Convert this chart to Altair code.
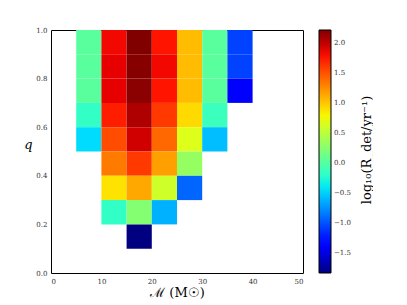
import altair as alt
import pandas as pd

# colour-bar limits
VMIN, VMAX = -1.83, 2.22

# lower edges of chirp-mass bins (M_sun) and q bins
mass_lo = [5, 10, 15, 20, 25, 30, 35]
q_top_lo = 0.9  # each column listed from q=0.9 downward

# log10(R_det / yr^-1) per mass column, from q=0.9 downward
col_5 = [0.03, 0.03, 0.03, -0.17, -0.45]
col_10 = [1.82, 1.86, 1.86, 1.73, 1.53, 1.33, 0.88, -0.17]
col_15 = [2.22, 2.20, 2.18, 2.06, 1.94, 1.61, 1.13, 0.24, -1.83]
col_20 = [1.77, 1.82, 1.77, 1.61, 1.41, 1.17, 0.60, -0.62]
col_25 = [1.05, 1.05, 1.05, 0.92, 0.68, 0.32, -0.92]
col_30 = [0.03, 0.03, 0.03, -0.13, -0.57]
col_35 = [-1.06, -1.06, -1.38]

cbar_title = "log₁₀(R_det/yr⁻¹)"

columns = [col_5, col_10, col_15, col_20, col_25, col_30, col_35]
rows = []
for m, col in zip(mass_lo, columns):
    for i, v in enumerate(col):
        ql = round(q_top_lo - 0.1 * i, 2)
        rows.append({"m_lo": m, "m_hi": m + 5, "q_lo": ql, "q_hi": round(ql + 0.1, 2), "val": v})
df = pd.DataFrame(rows)

# jet colormap as piecewise-linear stops
def interp(pts, t):
    for (t0, v0), (t1, v1) in zip(pts, pts[1:]):
        if t0 <= t <= t1:
            return v0 + (v1 - v0) * (t - t0) / (t1 - t0) if t1 > t0 else v1
    return pts[-1][1]

R = [(0, 0), (0.35, 0), (0.66, 1), (0.89, 1), (1, 0.5)]
G = [(0, 0), (0.125, 0), (0.375, 1), (0.64, 1), (0.91, 0), (1, 0)]
B = [(0, 0.5), (0.11, 1), (0.34, 1), (0.65, 0), (1, 0)]
ts = [0, 0.11, 0.125, 0.34, 0.35, 0.375, 0.64, 0.65, 0.66, 0.89, 0.91, 1]
stops = [VMIN + t * (VMAX - VMIN) for t in ts]
cols = ["#%02x%02x%02x" % tuple(int(round(255 * interp(P, t))) for P in (R, G, B)) for t in ts]

FONT = "DejaVu Serif"

heat = alt.Chart(df).mark_rect().encode(
    x=alt.X("m_lo:Q", scale=alt.Scale(domain=[0, 50], nice=False),
            axis=alt.Axis(values=[0, 10, 20, 30, 40, 50], title="ℳ (M☉)", titlePadding=2)),
    x2="m_hi:Q",
    y=alt.Y("q_lo:Q", scale=alt.Scale(domain=[0, 1], nice=False),
            axis=alt.Axis(values=[0, 0.2, 0.4, 0.6, 0.8, 1.0], format=".1f", title="q",
                          titleFontStyle="italic", titleAngle=0, titlePadding=8)),
    y2="q_hi:Q",
    color=alt.Color("val:Q",
                    scale=alt.Scale(domain=stops, range=cols, interpolate="rgb", clamp=True),
                    legend=alt.Legend(orient="none", legendX=268, legendY=0, direction="vertical",
                                      gradientLength=243, gradientThickness=12,
                                      values=[-1.5, -1.0, -0.5, 0.0, 0.5, 1.0, 1.5, 2.0],
                                      format=".1f", title=None,
                                      labelFont=FONT, labelFontSize=7,
                                      labelColor="#333", labelOffset=3,
                                      gradientStrokeColor="black", gradientStrokeWidth=1)),
)

title_txt = alt.Chart(pd.DataFrame({"t": [cbar_title]})).mark_text(
    angle=270, align="center", baseline="middle", font=FONT, fontSize=13, color="black"
).encode(text="t:N", x=alt.value(316), y=alt.value(120))

chart = alt.layer(heat, title_txt).properties(
    width=252, height=243,
    autosize=alt.AutoSizeParams(type="none"),
    padding={"left": 43, "top": 22, "right": 70, "bottom": 32},
).configure_view(
    stroke="black", strokeWidth=1
).configure_axis(
    grid=False, domain=False, ticks=False,
    labelFont=FONT, labelFontSize=7, labelColor="#333", labelPadding=4,
    titleFont=FONT, titleFontSize=13, titleFontWeight="normal", titleColor="black",
)

chart.save("out.html", embed_options={"renderer": "svg", "actions": False})
